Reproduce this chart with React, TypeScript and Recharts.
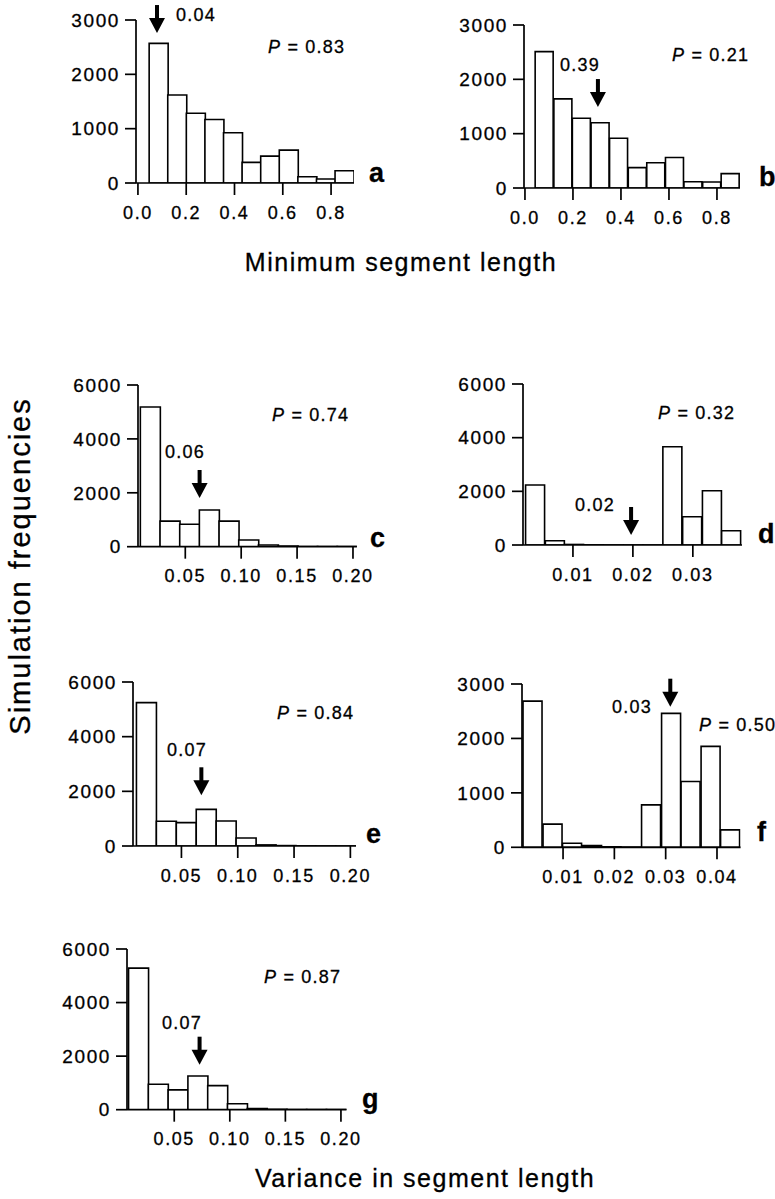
import React from "react";
import { ComposedChart, Bar, XAxis, YAxis, ReferenceDot } from "recharts";

const FONT = '"Liberation Sans", Arial, Helvetica, sans-serif';

// bin centres and counts
const binsA = [0.085, 0.162, 0.239, 0.316, 0.393, 0.47, 0.547, 0.624, 0.701, 0.778, 0.855];
const countsA = [2570, 1620, 1285, 1170, 925, 380, 495, 605, 115, 75, 225];

const binsB = [0.081, 0.159, 0.236, 0.314, 0.391, 0.469, 0.546, 0.624, 0.701, 0.779, 0.856];
const countsB = [2510, 1640, 1285, 1200, 915, 375, 465, 560, 115, 110, 265];

const binsC = [0.0186, 0.0362, 0.0538, 0.0714, 0.089, 0.1066, 0.1242, 0.1418, 0.1594, 0.177, 0.1946];
const countsC = [5185, 950, 830, 1360, 950, 250, 60, 20, 5, 3, 2];

const binsD = [0.0037, 0.007, 0.0102, 0.0135, 0.0168, 0.0201, 0.0233, 0.0266, 0.0299, 0.0332, 0.0364];
const countsD = [2235, 160, 20, 6, 3, 2, 2, 3660, 1055, 2020, 530];

const binsE = [0.0189, 0.0366, 0.0543, 0.072, 0.0897, 0.1074, 0.1251, 0.1428, 0.1605, 0.1782, 0.1959];
const countsE = [5245, 905, 855, 1340, 915, 290, 40, 15, 5, 3, 2];

const binsF = [0.0041, 0.008, 0.0118, 0.0157, 0.0195, 0.0234, 0.0272, 0.0311, 0.0349, 0.0388, 0.0426];
const countsF = [2685, 425, 75, 30, 10, 5, 780, 2460, 1210, 1855, 320];

const binsG = [0.0178, 0.0356, 0.0534, 0.0712, 0.089, 0.1068, 0.1246, 0.1424, 0.1602, 0.178, 0.1958];
const countsG = [5285, 950, 740, 1260, 900, 220, 40, 15, 5, 3, 2];

const ticksMin = [0, 0.2, 0.4, 0.6, 0.8];
const ticksVar = [0.05, 0.1, 0.15, 0.2];
const ticksD = [0.01, 0.02, 0.03];
const ticksF = [0.01, 0.02, 0.03, 0.04];
const yTicks3000 = [0, 1000, 2000, 3000];
const yTicks6000 = [0, 2000, 4000, 6000];

const toData = (bins: number[], counts: number[]) =>
  bins.map((x, i) => ({ x, count: counts[i] }));

function Arrow(props: any) {
  const { cx, cy } = props;
  if (cx == null || cy == null) return null;
  return (
    <g>
      <rect x={cx - 2} y={cy - 28} width={4} height={14} fill="#000" />
      <polygon points={`${cx - 8},${cy - 15} ${cx + 8},${cy - 15} ${cx},${cy}`} fill="#000" />
    </g>
  );
}

interface PanelProps {
  left: number;
  top: number;
  right: number;
  bottom: number;
  data: { x: number; count: number }[];
  xDomain: [number, number];
  xTicks: number[];
  digits: number;
  yMax: number;
  yTicks: number[];
  arrowX: number;
  arrowY: number;
}

function Panel({ left, top, right, bottom, data, xDomain, xTicks, digits, yMax, yTicks, arrowX, arrowY }: PanelProps) {
  const w = right - left;
  const h = bottom - top;
  const line = { stroke: "#000", strokeWidth: 1.7 };
  return (
    <div style={{ position: "absolute", left: left - 70, top: top - 20 }}>
      <ComposedChart
        width={w + 110}
        height={h + 70}
        data={data}
        margin={{ top: 20, right: 40, bottom: 0, left: 10 }}
        barCategoryGap={0}
        barGap={0}
      >
        <XAxis
          type="number"
          dataKey="x"
          domain={xDomain}
          ticks={xTicks}
          allowDataOverflow
          interval={0}
          height={50}
          tickSize={12}
          tickMargin={11}
          tickFormatter={(v: number) => v.toFixed(digits)}
          axisLine={line}
          tickLine={line}
          tick={{ fill: "#000", fontSize: 18 }}
        />
        <YAxis
          type="number"
          domain={[0, yMax]}
          ticks={yTicks}
          allowDataOverflow
          interval={0}
          width={60}
          tickSize={11}
          tickMargin={5}
          axisLine={line}
          tickLine={line}
          tick={{ fill: "#000", fontSize: 19 }}
        />
        <Bar dataKey="count" fill="#fff" stroke="#000" strokeWidth={1.6} isAnimationActive={false} />
        <ReferenceDot x={arrowX} y={arrowY} r={0} ifOverflow="visible" shape={Arrow} />
      </ComposedChart>
    </div>
  );
}

const obsLabels = [
  { t: "0.04", x: 196, y: 15 },
  { t: "0.39", x: 580, y: 65 },
  { t: "0.06", x: 185, y: 452 },
  { t: "0.02", x: 595, y: 505 },
  { t: "0.07", x: 187, y: 750 },
  { t: "0.03", x: 632, y: 707 },
  { t: "0.07", x: 182, y: 1023 },
];

const pLabels = [
  { t: "0.83", x: 268, y: 47 },
  { t: "0.21", x: 672, y: 55 },
  { t: "0.74", x: 272, y: 415 },
  { t: "0.32", x: 658, y: 413 },
  { t: "0.84", x: 277, y: 713 },
  { t: "0.50", x: 699, y: 725 },
  { t: "0.87", x: 264, y: 977 },
];

const letters = [
  { t: "a", x: 369, y: 182 },
  { t: "b", x: 759, y: 186 },
  { t: "c", x: 370, y: 547 },
  { t: "d", x: 758, y: 543 },
  { t: "e", x: 366, y: 843 },
  { t: "f", x: 757, y: 841 },
  { t: "g", x: 362, y: 1108 },
];

export default function App() {
  return (
    <div style={{ position: "relative", width: 775, height: 1199, background: "#fff", fontFamily: FONT, overflow: "hidden" }}>
      <style>{`body{margin:0}.recharts-cartesian-axis-tick-value{letter-spacing:1.6px}svg text{stroke:#000;stroke-width:0.3px}`}</style>

      <Panel left={136} top={20} right={354} bottom={183} data={toData(binsA, countsA)}
        xDomain={[-0.008, 0.895]} xTicks={ticksMin} digits={1} yMax={3000} yTicks={yTicks3000}
        arrowX={0.079} arrowY={2760} />
      <Panel left={524} top={25} right={740} bottom={188} data={toData(binsB, countsB)}
        xDomain={[-0.004, 0.896]} xTicks={ticksMin} digits={1} yMax={3000} yTicks={yTicks3000}
        arrowX={0.304} arrowY={1490} />
      <Panel left={137.7} top={385} right={356.6} bottom={546.7} data={toData(binsC, countsC)}
        xDomain={[0.0077, 0.2035]} xTicks={ticksVar} digits={2} yMax={6000} yTicks={yTicks6000}
        arrowX={0.0628} arrowY={1807} />
      <Panel left={523.3} top={384} right={742.3} bottom={545} data={toData(binsD, countsD)}
        xDomain={[0.00167, 0.0382]} xTicks={ticksD} digits={2} yMax={6000} yTicks={yTicks6000}
        arrowX={0.0197} arrowY={373} />
      <Panel left={133.3} top={681.7} right={356.3} bottom={845.7} data={toData(binsE, countsE)}
        xDomain={[0.007, 0.205]} xTicks={ticksVar} digits={2} yMax={6000} yTicks={yTicks6000}
        arrowX={0.0677} arrowY={1855} />
      <Panel left={521.7} top={684} right={740.3} bottom={847.3} data={toData(binsF, countsF)}
        xDomain={[0.002, 0.0446]} xTicks={ticksF} digits={2} yMax={3000} yTicks={yTicks3000}
        arrowX={0.0309} arrowY={2583} />
      <Panel left={126.7} top={949.3} right={346.2} bottom={1110} data={toData(binsG, countsG)}
        xDomain={[0.0075, 0.205]} xTicks={ticksVar} digits={2} yMax={6000} yTicks={yTicks6000}
        arrowX={0.0728} arrowY={1680} />

      <svg width={775} height={1199} style={{ position: "absolute", left: 0, top: 0, pointerEvents: "none" }}>
        {obsLabels.map((l, i) => (
          <text key={"o" + i} x={l.x} y={l.y} textAnchor="middle" dominantBaseline="central"
            fontSize={18} letterSpacing={1.2} fill="#000">{l.t}</text>
        ))}
        {pLabels.map((l, i) => (
          <text key={"p" + i} x={l.x} y={l.y} dominantBaseline="central" fontSize={18} letterSpacing={1.2} fill="#000">
            <tspan fontStyle="italic">P</tspan> = {l.t}
          </text>
        ))}
        {letters.map((l, i) => (
          <text key={"l" + i} x={l.x} y={l.y} fontSize={27} fontWeight="bold" fill="#000">{l.t}</text>
        ))}
        <text x={401} y={262} textAnchor="middle" dominantBaseline="central" fontSize={25} letterSpacing={1.5} fill="#000">
          Minimum segment length
        </text>
        <text x={425} y={1178} textAnchor="middle" dominantBaseline="central" fontSize={25} letterSpacing={1.5} fill="#000">
          Variance in segment length
        </text>
        <text x={20} y={566} textAnchor="middle" dominantBaseline="central" fontSize={29} letterSpacing={2}
          transform="rotate(-90 20 566)" fill="#000">
          Simulation frequencies
        </text>
      </svg>
    </div>
  );
}
